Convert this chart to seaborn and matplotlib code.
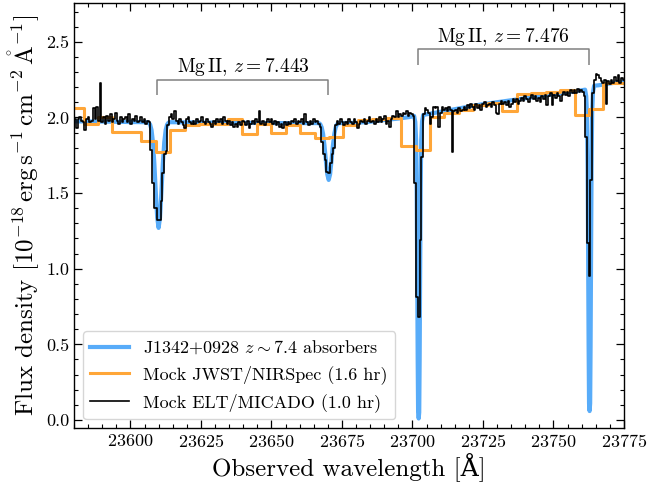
import matplotlib
matplotlib.use("Agg")
import matplotlib.pyplot as plt
import seaborn as sns

# ---------------- data ----------------
# intrinsic model: continuum with the z~7.4 Mg II absorbers
blue_wave = [23578.0, 23590.0, 23600.0,
             23606.0, 23606.5, 23607.0, 23607.5, 23608.0, 23608.5, 23609.0, 23609.5, 23610.0,
             23610.5, 23611.0, 23611.5, 23612.0, 23612.5, 23613.0, 23613.5, 23614.0,
             23630.0, 23650.0,
             23666.8, 23667.3, 23667.8, 23668.3, 23668.8, 23669.3, 23669.8, 23670.3,
             23670.8, 23671.3, 23671.8, 23672.3, 23672.8, 23673.3, 23673.8,
             23680.0, 23685.0, 23690.0, 23695.0, 23699.0,
             23700.6, 23701.0, 23701.3, 23701.5, 23701.7, 23701.85, 23702.0, 23702.2,
             23702.4, 23702.55, 23702.7, 23702.9, 23703.1, 23703.4, 23703.8,
             23710.0, 23720.0, 23724.0, 23730.0, 23740.0, 23750.0, 23757.0, 23760.0,
             23761.2, 23761.6, 23761.9, 23762.1, 23762.3, 23762.45, 23762.6, 23762.8,
             23763.0, 23763.15, 23763.3, 23763.5, 23763.7, 23764.0, 23764.4,
             23766.0, 23770.0, 23775.0, 23777.0]
blue_flux = [1.975, 1.973, 1.970,
             1.969, 1.966, 1.953, 1.917, 1.836, 1.694, 1.507, 1.338, 1.270,
             1.338, 1.507, 1.694, 1.836, 1.917, 1.953, 1.966, 1.969,
             1.966, 1.963,
             1.963, 1.956, 1.936, 1.893, 1.816, 1.715, 1.624, 1.587,
             1.624, 1.715, 1.816, 1.893, 1.936, 1.956, 1.963,
             1.965, 1.972, 1.983, 1.993, 2.003,
             2.010, 1.971, 1.850, 1.508, 0.905, 0.402, 0.050, 0.010,
             0.050, 0.403, 0.906, 1.510, 1.852, 1.974, 2.017,
             2.038, 2.072, 2.085, 2.101, 2.127, 2.153, 2.172, 2.180,
             2.184, 2.142, 2.013, 1.663, 1.006, 0.481, 0.109, 0.059,
             0.110, 0.484, 1.012, 1.674, 2.030, 2.166, 2.210,
             2.213, 2.225, 2.240, 2.245]

# mock JWST/NIRSpec spectrum (bin centres, flux)
nirspec_wave = [23575.7, 23580.8, 23586.0, 23591.1, 23596.2, 23601.3, 23606.4, 23611.6,
                23616.7, 23621.8, 23626.9, 23632.0, 23637.1, 23642.3, 23647.4, 23652.5,
                23657.6, 23662.7, 23667.9, 23673.0, 23678.1, 23683.2, 23688.3, 23693.5,
                23698.6, 23703.7, 23708.8, 23713.9, 23719.0, 23724.2, 23729.3, 23734.4,
                23739.5, 23744.6, 23749.8, 23754.9, 23760.0, 23765.1, 23770.2, 23775.3]
nirspec_flux = [2.06, 2.06, 1.955, 2.005, 1.907, 1.907, 1.845, 1.775,
                1.915, 1.95, 1.955, 1.96, 1.99, 1.89, 1.96, 1.90,
                1.95, 1.90, 1.863, 1.87, 1.95, 1.985, 1.99, 1.995,
                1.81, 1.786, 2.006, 2.03, 2.05, 2.08, 2.094, 2.045,
                2.155, 2.165, 2.17, 2.18, 2.017, 2.055, 2.227, 2.23]

# mock ELT/MICADO spectrum (pixel centres, flux)
micado_wave = [
    23580.4, 23581.0, 23581.6, 23582.2, 23582.8, 23583.4, 23584.0, 23584.6, 23585.2, 23585.8,
    23586.4, 23587.0, 23587.6, 23588.2, 23588.8, 23589.4, 23590.0, 23590.6, 23591.2, 23591.8,
    23592.4, 23593.0, 23593.6, 23594.2, 23594.8, 23595.4, 23596.0, 23596.6, 23597.2, 23597.8,
    23598.4, 23599.0, 23599.6, 23600.2, 23600.8, 23601.4, 23602.0, 23602.6, 23603.2, 23603.8,
    23604.4, 23605.0, 23605.6, 23606.2, 23606.8, 23607.4, 23608.0, 23608.6, 23609.2, 23609.8,
    23610.4, 23611.0, 23611.6, 23612.2, 23612.8, 23613.4, 23614.0, 23614.6, 23615.2, 23615.8,
    23616.4, 23617.0, 23617.6, 23618.2, 23618.8, 23619.4, 23620.0, 23620.6, 23621.2, 23621.8,
    23622.4, 23623.0, 23623.6, 23624.2, 23624.8, 23625.4, 23626.0, 23626.6, 23627.2, 23627.8,
    23628.4, 23629.0, 23629.6, 23630.2, 23630.8, 23631.4, 23632.0, 23632.6, 23633.2, 23633.8,
    23634.4, 23635.0, 23635.6, 23636.2, 23636.8, 23637.4, 23638.0, 23638.6, 23639.2, 23639.8,
    23640.4, 23641.0, 23641.6, 23642.2, 23642.8, 23643.4, 23644.0, 23644.6, 23645.2, 23645.8,
    23646.4, 23647.0, 23647.6, 23648.2, 23648.8, 23649.4, 23650.0, 23650.6, 23651.2, 23651.8,
    23652.4, 23653.0, 23653.6, 23654.2, 23654.8, 23655.4, 23656.0, 23656.6, 23657.2, 23657.8,
    23658.4, 23659.0, 23659.6, 23660.2, 23660.8, 23661.4, 23662.0, 23662.6, 23663.2, 23663.8,
    23664.4, 23665.0, 23665.6, 23666.2, 23666.8, 23667.4, 23668.0, 23668.6, 23669.2, 23669.8,
    23670.4, 23671.0, 23671.6, 23672.2, 23672.8, 23673.4, 23674.0, 23674.6, 23675.2, 23675.8,
    23676.4, 23677.0, 23677.6, 23678.2, 23678.8, 23679.4, 23680.0, 23680.6, 23681.2, 23681.8,
    23682.4, 23683.0, 23683.6, 23684.2, 23684.8, 23685.4, 23686.0, 23686.6, 23687.2, 23687.8,
    23688.4, 23689.0, 23689.6, 23690.2, 23690.8, 23691.4, 23692.0, 23692.6, 23693.2, 23693.8,
    23694.4, 23695.0, 23695.6, 23696.2, 23696.8, 23697.4, 23698.0, 23698.6, 23699.2, 23699.8,
    23700.4, 23701.0, 23701.6, 23702.2, 23702.8, 23703.4, 23704.0, 23704.6, 23705.2, 23705.8,
    23706.4, 23707.0, 23707.6, 23708.2, 23708.8, 23709.4, 23710.0, 23710.6, 23711.2, 23711.8,
    23712.4, 23713.0, 23713.6, 23714.2, 23714.8, 23715.4, 23716.0, 23716.6, 23717.2, 23717.8,
    23718.4, 23719.0, 23719.6, 23720.2, 23720.8, 23721.4, 23722.0, 23722.6, 23723.2, 23723.8,
    23724.4, 23725.0, 23725.6, 23726.2, 23726.8, 23727.4, 23728.0, 23728.6, 23729.2, 23729.8,
    23730.4, 23731.0, 23731.6, 23732.2, 23732.8, 23733.4, 23734.0, 23734.6, 23735.2, 23735.8,
    23736.4, 23737.0, 23737.6, 23738.2, 23738.8, 23739.4, 23740.0, 23740.6, 23741.2, 23741.8,
    23742.4, 23743.0, 23743.6, 23744.2, 23744.8, 23745.4, 23746.0, 23746.6, 23747.2, 23747.8,
    23748.4, 23749.0, 23749.6, 23750.2, 23750.8, 23751.4, 23752.0, 23752.6, 23753.2, 23753.8,
    23754.4, 23755.0, 23755.6, 23756.2, 23756.8, 23757.4, 23758.0, 23758.6, 23759.2, 23759.8,
    23760.4, 23761.0, 23761.6, 23762.2, 23762.8, 23763.4, 23764.0, 23764.6, 23765.2, 23765.8,
    23766.4, 23767.0, 23767.6, 23768.2, 23768.8, 23769.4, 23770.0, 23770.6, 23771.2, 23771.8,
    23772.4, 23773.0, 23773.6, 23774.2, 23774.8, 23775.4]
micado_flux = [
    1.99, 1.93, 1.99, 2.00, 1.98, 1.97, 1.92, 1.99, 2.00, 1.97,
    1.98, 2.06, 1.99, 2.07, 1.98, 2.227, 1.97, 2.00, 1.96, 2.01,
    1.98, 2.02, 1.97, 1.99, 2.03, 1.98, 1.96, 2.00, 1.97, 1.99,
    2.00, 1.97, 2.02, 1.96, 1.99, 1.98, 2.01, 1.97, 1.98, 2.00,
    1.97, 1.99, 1.96, 1.98, 1.97, 1.786, 1.57, 1.40, 1.40, 1.32,
    1.32, 1.45, 1.63, 1.76, 1.78, 1.95, 2.00, 2.02, 1.99, 2.04,
    1.98, 1.96, 1.99, 1.97, 1.95, 1.93, 1.99, 2.00, 1.97, 1.96,
    1.98, 1.96, 1.99, 1.97, 1.98, 2.00, 1.97, 1.96, 1.99, 1.97,
    1.96, 1.94, 1.98, 1.96, 1.99, 1.97, 1.99, 1.96, 2.00, 1.98,
    1.96, 1.98, 1.95, 1.97, 1.94, 1.96, 1.94, 1.97, 1.95, 1.98,
    1.97, 1.95, 1.98, 1.93, 1.96, 1.98, 1.96, 1.99, 1.97, 2.04,
    1.96, 1.98, 1.95, 1.97, 1.99, 1.97, 1.99, 1.96, 1.98, 1.95,
    1.97, 1.94, 1.96, 1.93, 1.97, 1.95, 1.97, 1.96, 1.98, 1.97,
    1.99, 1.96, 1.98, 1.97, 1.99, 1.96, 2.02, 1.97, 1.95, 1.98,
    1.96, 1.99, 1.97, 1.98, 1.96, 1.94, 1.84, 1.76, 1.72, 1.64,
    1.63, 1.70, 1.76, 1.80, 1.95, 1.98, 1.96, 1.99, 1.97, 1.95,
    1.97, 1.96, 1.99, 1.97, 1.96, 1.99, 1.97, 1.93, 1.96, 1.98,
    1.97, 1.99, 1.96, 1.98, 2.00, 1.97, 1.98, 1.96, 1.99, 1.97,
    2.00, 1.97, 1.99, 2.01, 1.96, 1.98, 1.94, 1.99, 2.01, 2.00,
    2.04, 2.00, 2.02, 2.01, 2.03, 2.02, 2.04, 2.01, 2.03, 2.02,
    2.01, 1.57, 0.815, 0.68, 1.19, 1.74, 2.02, 2.06, 2.05, 2.03,
    1.96, 2.00, 2.07, 2.06, 2.07, 1.94, 2.03, 2.07, 2.05, 2.06,
    2.04, 2.07, 2.05, 1.77, 2.04, 2.05, 2.03, 2.06, 2.04, 2.05,
    2.07, 2.05, 2.08, 2.06, 2.09, 2.07, 2.05, 2.09, 2.06, 2.08,
    2.05, 2.09, 2.10, 2.07, 2.08, 2.09, 2.07, 2.10, 2.08, 2.03,
    2.02, 2.09, 2.11, 2.09, 2.10, 2.08, 2.11, 2.07, 2.09, 2.12,
    2.10, 2.12, 2.09, 2.11, 2.13, 2.11, 2.14, 2.12, 2.10, 2.13,
    2.15, 2.12, 2.14, 2.11, 2.13, 2.10, 2.14, 2.12, 2.15, 2.08,
    2.14, 2.16, 2.08, 2.15, 2.13, 2.16, 2.14, 2.11, 2.15, 2.17,
    2.15, 2.17, 2.14, 2.18, 2.16, 2.18, 2.16, 2.19, 2.17, 2.18,
    2.17, 2.14, 1.87, 1.17, 0.95, 1.59, 2.16, 2.25, 2.29, 2.28,
    2.26, 2.24, 2.23, 2.25, 2.09, 2.24, 2.22, 2.25, 2.23, 2.27,
    2.24, 2.28, 2.23, 2.26, 2.25, 2.25]

# Mg II doublet annotations
mgii_rest = [2796.35, 2803.53]
absorber_z = [7.443, 7.476]
absorber_labels = [r"Mg$\,$II, $z=7.443$", r"Mg$\,$II, $z=7.476$"]
bracket_top = [2.25, 2.45]

series_labels = [r"J1342+0928 $z\sim7.4$ absorbers",
                 "Mock JWST/NIRSpec (1.6 hr)",
                 "Mock ELT/MICADO (1.0 hr)"]

# ---------------- style ----------------
sns.set_style("ticks")
plt.rcParams.update({
    "font.family": ["cmr10", "DejaVu Serif"],
    "mathtext.fontset": "cm",
    "axes.formatter.use_mathtext": True,
    "axes.unicode_minus": False,
    "axes.edgecolor": "black",
    "axes.labelcolor": "black",
    "text.color": "black",
    "xtick.color": "black",
    "ytick.color": "black",
    "xtick.direction": "in",
    "ytick.direction": "in",
    "xtick.top": True,
    "ytick.right": True,
    "xtick.major.size": 6,
    "ytick.major.size": 6,
    "xtick.minor.size": 3,
    "ytick.minor.size": 3,
    "xtick.major.width": 0.9,
    "ytick.major.width": 0.9,
    "xtick.minor.width": 0.8,
    "ytick.minor.width": 0.8,
    "axes.linewidth": 1.0,
    "lines.solid_capstyle": "projecting",
})

BLUE = "#58acf9"
ORANGE = "#ffa638"

fig = plt.figure(figsize=(6.49, 4.86), dpi=100)
ax = fig.add_axes([0.114, 0.1187, 0.8475, 0.8745])

sns.lineplot(x=blue_wave, y=blue_flux, ax=ax, color=BLUE, lw=3.0,
             estimator=None, errorbar=None, sort=False, label=series_labels[0])
sns.lineplot(x=nirspec_wave, y=nirspec_flux, ax=ax, color=ORANGE, lw=2.2,
             drawstyle="steps-mid", estimator=None, errorbar=None, sort=False,
             label=series_labels[1])
sns.lineplot(x=micado_wave, y=micado_flux, ax=ax, color="black", lw=1.2,
             drawstyle="steps-mid", estimator=None, errorbar=None, sort=False,
             label=series_labels[2])

# brackets marking the doublets
for z, lab, top in zip(absorber_z, absorber_labels, bracket_top):
    w1 = mgii_rest[0] * (1 + z)
    w2 = mgii_rest[1] * (1 + z)
    ax.plot([w1, w1, w2, w2], [top - 0.1, top, top, top - 0.1],
            color="0.5", lw=1.1, solid_capstyle="butt")
    ax.text(0.5 * (w1 + w2), top + 0.05, lab, ha="center", va="baseline",
            fontsize=14)

ax.set_xlim(23580, 23775)
ax.set_ylim(-0.055, 2.755)
ax.set_xticks([23600, 23625, 23650, 23675, 23700, 23725, 23750, 23775])
ax.set_yticks([0.0, 0.5, 1.0, 1.5, 2.0, 2.5])
ax.xaxis.set_minor_locator(matplotlib.ticker.MultipleLocator(5))
ax.yaxis.set_minor_locator(matplotlib.ticker.MultipleLocator(0.1))
ax.yaxis.set_major_formatter(matplotlib.ticker.FormatStrFormatter("%.1f"))
ax.tick_params(which="both", labelsize=13)

ax.set_xlabel("Observed wavelength [Å]", fontsize=18, labelpad=2)
ax.set_ylabel(r"Flux density [$10^{-18}\,\mathrm{erg\,s^{-1}\,cm^{-2}\,\mathring{A}^{-1}}$]",
              fontsize=18, labelpad=3)

leg = ax.legend(loc="lower left", fontsize=13, handlelength=2.15, frameon=True,
                fancybox=True, framealpha=0.8, edgecolor="0.8")

fig.savefig("out.png", dpi=100)
